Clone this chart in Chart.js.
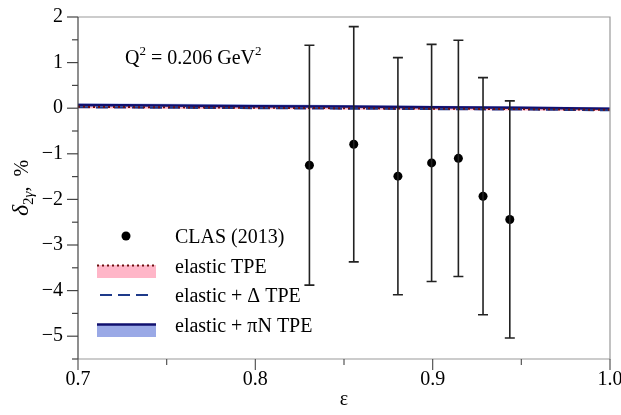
<!DOCTYPE html>
<html>
<head>
<meta charset="utf-8">
<script src="https://cdn.jsdelivr.net/npm/chart.js@4/dist/chart.umd.min.js"></script>
<style>
  html, body { margin: 0; padding: 0; background: #fff; }
  #wrap { width: 621px; height: 415px; }
</style>
</head>
<body>
<div id="wrap"><canvas id="chart" width="621" height="415"></canvas></div>
<script>
// theory curves (epsilon grid)
const theoryEps = [0.70, 0.75, 0.80, 0.85, 0.90, 0.95, 1.00];
const elasticTPE = [0.03, 0.02, 0.01, 0.00, -0.01, -0.02, -0.035];
const elasticLo  = [0.00, -0.01, -0.02, -0.03, -0.04, -0.05, -0.06];
const elasticHi  = [0.05, 0.04, 0.03, 0.02, 0.01, 0.00, -0.01];
const deltaTPE   = [0.02, 0.01, 0.00, -0.01, -0.02, -0.03, -0.045];
const piNTPE     = [0.07, 0.06, 0.045, 0.035, 0.02, 0.01, -0.01];
const piNLo      = [0.03, 0.02, 0.01, 0.00, -0.01, -0.02, -0.04];
const piNHi      = [0.11, 0.10, 0.085, 0.07, 0.055, 0.04, 0.02];

// CLAS (2013) points
const clasEps   = [0.8305, 0.8555, 0.8804, 0.8994, 0.9145, 0.9284, 0.9435];
const clasDelta = [-1.25, -0.79, -1.49, -1.20, -1.10, -1.93, -2.44];
const clasErr   = [2.63, 2.58, 2.60, 2.60, 2.59, 2.60, 2.60];

const xTicks = [0.7, 0.8, 0.9, 1.0];
const yTicks = [2, 1, 0, -1, -2, -3, -4, -5];

const serif = '"Liberation Serif", "DejaVu Serif", serif';

function pts(xs, ys) {
  return xs.map(function(x, i) { return { x: x, y: ys[i] }; });
}

// error bars, ticks, frame, labels and legend
var decor = {
  id: 'decor',
  afterDatasetsDraw: function(chart) {
    var ctx = chart.ctx, xs = chart.scales.x, ys = chart.scales.y;
    ctx.save();
    // error bars
    ctx.strokeStyle = '#222';
    ctx.lineWidth = 1.6;
    clasEps.forEach(function(e, i) {
      var px = xs.getPixelForValue(e);
      var top = ys.getPixelForValue(clasDelta[i] + clasErr[i]);
      var bot = ys.getPixelForValue(clasDelta[i] - clasErr[i]);
      ctx.beginPath();
      ctx.moveTo(px, top); ctx.lineTo(px, bot);
      ctx.moveTo(px - 5, top); ctx.lineTo(px + 5, top);
      ctx.moveTo(px - 5, bot); ctx.lineTo(px + 5, bot);
      ctx.stroke();
    });
    ctx.restore();
  },
  afterDraw: function(chart) {
    var ctx = chart.ctx, xs = chart.scales.x, ys = chart.scales.y;
    var a = chart.chartArea;
    ctx.save();
    // frame
    ctx.lineWidth = 1.2;
    ctx.strokeStyle = '#999';
    ctx.beginPath();
    ctx.moveTo(a.left, a.top); ctx.lineTo(a.right, a.top);
    ctx.lineTo(a.right, a.bottom); ctx.lineTo(a.left, a.bottom);
    ctx.stroke();
    ctx.strokeStyle = '#444';
    ctx.beginPath();
    ctx.moveTo(a.left, a.top); ctx.lineTo(a.left, a.bottom);
    ctx.stroke();
    // y ticks
    for (var v = -5.5; v <= 2.001; v += 0.5) {
      var py = ys.getPixelForValue(v);
      var major = Math.abs(v - Math.round(v)) < 1e-6;
      ctx.beginPath();
      ctx.moveTo(a.left - (major ? 11 : 6), py); ctx.lineTo(a.left, py);
      ctx.stroke();
    }
    // x ticks
    ctx.strokeStyle = '#555';
    for (var k = 0; k <= 6; k++) {
      var xv = 0.7 + k * 0.05;
      var px = xs.getPixelForValue(xv);
      ctx.beginPath();
      ctx.moveTo(px, a.bottom); ctx.lineTo(px, a.bottom + (k % 2 === 0 ? 11 : 6));
      ctx.stroke();
    }

    ctx.fillStyle = '#000';
    ctx.textBaseline = 'alphabetic';
    // Q^2 label
    ctx.font = '20px ' + serif;
    ctx.textAlign = 'left';
    var qx = 125, qy = 64;
    ctx.fillText('Q', qx, qy);
    qx += ctx.measureText('Q').width;
    ctx.font = '13px ' + serif;
    ctx.fillText('2', qx, qy - 9);
    qx += ctx.measureText('2').width;
    ctx.font = '20px ' + serif;
    ctx.fillText(' = 0.206 GeV', qx, qy);
    qx += ctx.measureText(' = 0.206 GeV').width;
    ctx.font = '13px ' + serif;
    ctx.fillText('2', qx, qy - 9);

    // x title
    ctx.font = '20px ' + serif;
    ctx.textAlign = 'center';
    ctx.fillText('\u03b5', (a.left + a.right) / 2, 405);

    // y title
    ctx.save();
    ctx.translate(28, (a.top + a.bottom) / 2);
    ctx.rotate(-Math.PI / 2);
    ctx.textAlign = 'left';
    var parts = [['italic 24px ' + serif, '\u03b4', 0], ['15px ' + serif, '2', 5], ['italic 15px ' + serif, '\u03b3', 5], ['20px ' + serif, ',  %', 0]];
    var total = 0;
    parts.forEach(function(p) { ctx.font = p[0]; total += ctx.measureText(p[1]).width; });
    var tx = -total / 2;
    parts.forEach(function(p) {
      ctx.font = p[0];
      ctx.fillText(p[1], tx, p[2]);
      tx += ctx.measureText(p[1]).width;
    });
    ctx.restore();

    // legend
    var lx0 = 97, lx1 = 156, tX = 175;
    var rows = [236, 266, 295, 325];
    var labels = ['CLAS (2013)', 'elastic TPE', 'elastic + \u0394 TPE', 'elastic + \u03c0N TPE'];
    // row 1
    ctx.fillStyle = '#000';
    ctx.beginPath(); ctx.arc(126, rows[0], 4.5, 0, Math.PI * 2); ctx.fill();
    // row 2
    ctx.fillStyle = '#ffb6c8';
    ctx.fillRect(lx0, 265, lx1 - lx0, 13);
    ctx.strokeStyle = '#6b1010'; ctx.lineWidth = 2; ctx.setLineDash([2, 3]);
    ctx.beginPath(); ctx.moveTo(lx0, 265.5); ctx.lineTo(lx1, 265.5); ctx.stroke();
    // row 3
    ctx.strokeStyle = '#1e3a8a'; ctx.setLineDash([12, 6]);
    ctx.beginPath(); ctx.moveTo(100, rows[2]); ctx.lineTo(154, rows[2]); ctx.stroke();
    ctx.setLineDash([]);
    // row 4
    ctx.fillStyle = '#9aa9e6';
    ctx.fillRect(lx0, 324, lx1 - lx0, 13);
    ctx.strokeStyle = '#10106e'; ctx.lineWidth = 2.5;
    ctx.beginPath(); ctx.moveTo(lx0, 324.5); ctx.lineTo(lx1, 324.5); ctx.stroke();

    ctx.fillStyle = '#000';
    ctx.font = '20px ' + serif;
    ctx.textAlign = 'left';
    labels.forEach(function(t, i) { ctx.fillText(t, tX, rows[i] + 7); });
    ctx.restore();
  }
};

new Chart(document.getElementById('chart'), {
  type: 'line',
  data: {
    datasets: [
      { data: pts(clasEps, clasDelta), showLine: false, pointRadius: 4.5, pointBackgroundColor: '#000', pointBorderWidth: 0, order: 0 },
      { data: pts(theoryEps, elasticTPE), borderColor: '#6b1010', borderWidth: 2, borderDash: [2, 3], pointRadius: 0, order: 1 },
      { data: pts(theoryEps, deltaTPE), borderColor: '#1e3a8a', borderWidth: 2, borderDash: [12, 6], pointRadius: 0, order: 1 },
      { data: pts(theoryEps, piNTPE), borderColor: '#10106e', borderWidth: 2.5, pointRadius: 0, order: 1 },
      { data: pts(theoryEps, elasticLo), borderWidth: 0, pointRadius: 0, order: 3 },
      { data: pts(theoryEps, elasticHi), borderWidth: 0, pointRadius: 0, fill: '-1', backgroundColor: '#ffb6c8', order: 3 },
      { data: pts(theoryEps, piNLo), borderWidth: 0, pointRadius: 0, order: 2 },
      { data: pts(theoryEps, piNHi), borderWidth: 0, pointRadius: 0, fill: '-1', backgroundColor: 'rgba(154,169,230,0.8)', order: 2 }
    ]
  },
  options: {
    responsive: false,
    animation: false,
    layout: { padding: { top: 17, right: 11, left: 0, bottom: 0 } },
    plugins: { legend: { display: false }, tooltip: { enabled: false } },
    scales: {
      x: {
        type: 'linear', min: 0.7, max: 1.0,
        afterFit: function(s) { s.height = 56; s.paddingLeft = 0; s.paddingRight = 0; },
        afterBuildTicks: function(s) { s.ticks = xTicks.map(function(v) { return { value: v }; }); },
        grid: { display: false, drawTicks: false },
        border: { display: false },
        ticks: { padding: 9, color: '#000', font: { family: serif, size: 20 }, maxRotation: 0,
          callback: function(v) { return v.toFixed(1); } }
      },
      y: {
        min: -5.5, max: 2,
        afterFit: function(s) { s.width = 78; s.paddingTop = 0; s.paddingBottom = 0; },
        afterBuildTicks: function(s) { s.ticks = yTicks.map(function(v) { return { value: v }; }); },
        grid: { display: false, drawTicks: false },
        border: { display: false },
        ticks: { padding: 15, color: '#000', font: { family: serif, size: 20 },
          callback: function(v) { return v < 0 ? '\u2212' + Math.abs(v) : String(v); } }
      }
    }
  },
  plugins: [decor]
});
</script>
</body>
</html>
